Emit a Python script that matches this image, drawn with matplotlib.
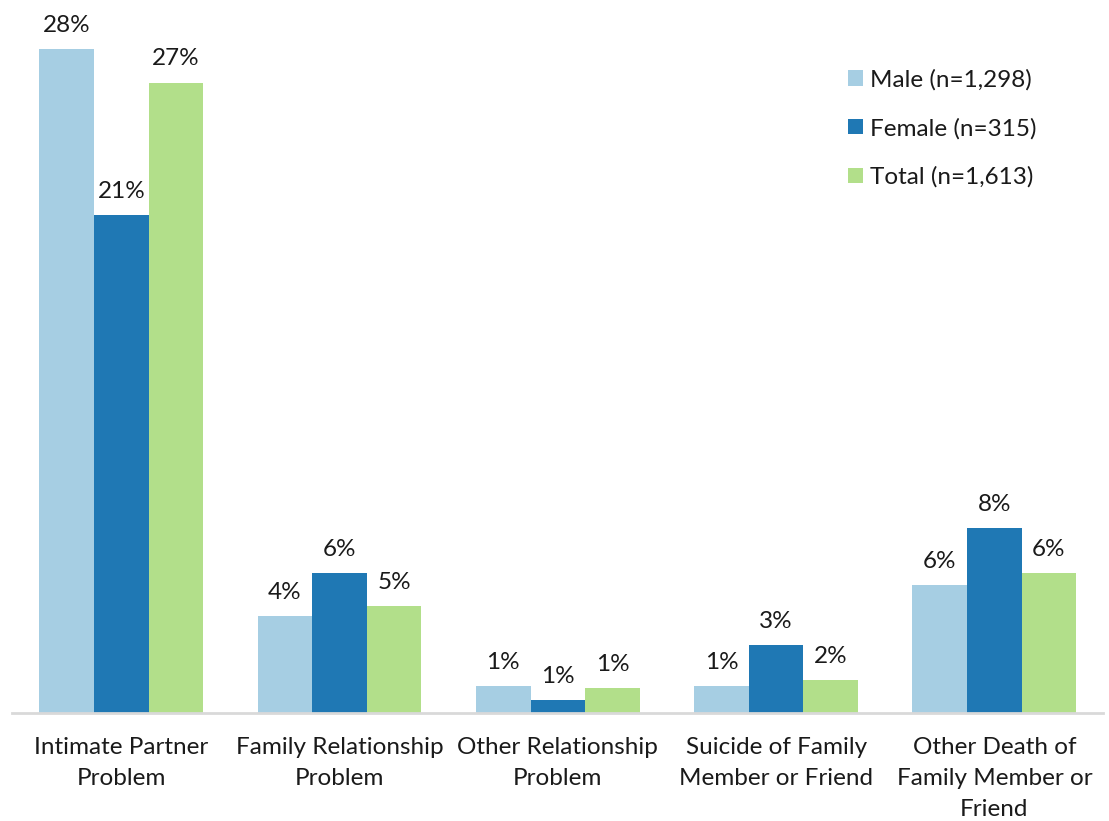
import numpy as np
import matplotlib.pyplot as plt

plt.rcParams['font.family'] = ['Lato', 'DejaVu Sans']

categories = ["Intimate Partner\nProblem", "Family Relationship\nProblem",
              "Other Relationship\nProblem", "Suicide of Family\nMember or Friend",
              "Other Death of\nFamily Member or\nFriend"]
series_names = ["Male (n=1,298)", "Female (n=315)", "Total (n=1,613)"]
male = [28.0, 4.1, 1.15, 1.15, 5.4]
female = [21.0, 5.9, 0.55, 2.85, 7.8]
total = [26.6, 4.5, 1.05, 1.4, 5.9]
male_labels = ["28%", "4%", "1%", "1%", "6%"]
female_labels = ["21%", "6%", "1%", "3%", "8%"]
total_labels = ["27%", "5%", "1%", "2%", "6%"]

colors = ["#a6cee3", "#1f78b4", "#b2df8a"]
fs = 17.5

fig = plt.figure(figsize=(11.09, 8.21), dpi=100)
ax = fig.add_axes([0.011, 0.1315, 0.984, 0.866])

x = np.arange(len(categories))
w = 0.25
for i, (vals, labs) in enumerate(zip([male, female, total],
                                      [male_labels, female_labels, total_labels])):
    bars = ax.bar(x + (i - 1) * w, vals, w, color=colors[i], label=series_names[i])
    for b, lab in zip(bars, labs):
        ax.annotate(lab, (b.get_x() + b.get_width() / 2, b.get_height()),
                    xytext=(0, 9.5), textcoords="offset points",
                    ha="center", va="bottom", fontsize=fs, color="#1a1a1a")

ax.set_xlim(-0.5, 4.5)
ax.set_ylim(0, 30)
ax.set_yticks([])
ax.set_xticks(x)
ax.set_xticklabels(categories, fontsize=fs, color="#1a1a1a", linespacing=1.6)
ax.tick_params(axis="x", length=0, pad=17)
for s in ["top", "right", "left"]:
    ax.spines[s].set_visible(False)
ax.spines["bottom"].set_color("#d9d9d9")
ax.spines["bottom"].set_linewidth(2)

fig.legend(loc="upper left", bbox_to_anchor=(848 / 1109, 1 - 69 / 821),
           frameon=False, fontsize=fs, handlelength=0.6, handleheight=0.6,
           handletextpad=0.3, labelspacing=1.12, borderpad=0, borderaxespad=0,
           labelcolor="#1a1a1a")

fig.savefig("out.png", dpi=100)
